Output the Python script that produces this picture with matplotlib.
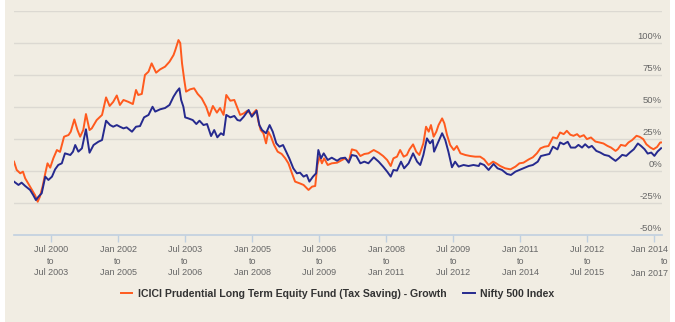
import matplotlib
matplotlib.use("Agg")
import matplotlib.pyplot as plt
from matplotlib import font_manager
from matplotlib.patches import Rectangle
from matplotlib.transforms import offset_copy, blended_transform_factory, ScaledTranslation

# rolling 3-year return, start of window as decimal year
fund_years = [
    1999.67, 1999.73, 1999.81, 1999.87, 1999.92, 2000.03, 2000.14, 2000.20, 2000.25, 2000.31,
    2000.37, 2000.42, 2000.48, 2000.55, 2000.63, 2000.70, 2000.79, 2000.89, 2000.94, 2001.02,
    2001.09, 2001.15, 2001.22, 2001.28, 2001.36, 2001.41, 2001.52, 2001.64, 2001.73, 2001.81,
    2001.89, 2001.97, 2002.04, 2002.12, 2002.23, 2002.33, 2002.40, 2002.45, 2002.53, 2002.60,
    2002.68, 2002.75, 2002.85, 2002.94, 2003.05, 2003.15, 2003.24, 2003.28, 2003.35, 2003.39,
    2003.43, 2003.48, 2003.52, 2003.61, 2003.70, 2003.78, 2003.87, 2003.97, 2004.04, 2004.12,
    2004.21, 2004.28, 2004.36, 2004.42, 2004.51, 2004.60, 2004.67, 2004.73, 2004.81, 2004.89,
    2004.99, 2005.09, 2005.14, 2005.19, 2005.25, 2005.31, 2005.36, 2005.42, 2005.49, 2005.57,
    2005.66, 2005.74, 2005.81, 2005.89, 2005.96, 2006.06, 2006.15, 2006.26, 2006.34, 2006.41,
    2006.46, 2006.51, 2006.56, 2006.61, 2006.69, 2006.78, 2006.90, 2006.98, 2007.08, 2007.16,
    2007.23, 2007.33, 2007.42, 2007.51, 2007.60, 2007.72, 2007.83, 2007.93, 2008.02, 2008.10,
    2008.16, 2008.24, 2008.31, 2008.39, 2008.46, 2008.52, 2008.60, 2008.67, 2008.74, 2008.83,
    2008.89, 2008.95, 2009.00, 2009.06, 2009.12, 2009.17, 2009.25, 2009.30, 2009.36, 2009.43,
    2009.51, 2009.58, 2009.66, 2009.77, 2009.88, 2009.99, 2010.10, 2010.19, 2010.29, 2010.39,
    2010.46, 2010.55, 2010.66, 2010.78, 2010.89, 2010.98, 2011.07, 2011.19, 2011.28, 2011.37,
    2011.45, 2011.54, 2011.63, 2011.73, 2011.82, 2011.89, 2011.97, 2012.04, 2012.12, 2012.19,
    2012.27, 2012.33, 2012.42, 2012.49, 2012.58, 2012.68, 2012.77, 2012.86, 2012.95, 2013.03,
    2013.13, 2013.18, 2013.25, 2013.35, 2013.42, 2013.50, 2013.60, 2013.67, 2013.75, 2013.82,
    2013.91, 2013.98, 2014.06, 2014.13, 2014.17,
]
fund_returns = [
    7.3, 0.8, -1.8, -0.5, -5.7, -12.2, -18.8, -24.0, -20.0, -12.0,
    -1.8, 6.0, 2.6, 9.9, 16.4, 14.9, 26.8, 28.1, 30.7, 40.3,
    32.0, 26.8, 32.0, 44.5, 32.0, 33.3, 39.8, 43.8, 57.5, 50.8,
    54.0, 59.0, 51.6, 55.5, 54.0, 52.3, 63.3, 59.4, 60.2, 75.0,
    77.6, 84.1, 76.8, 79.4, 81.5, 85.4, 90.6, 94.5, 102.3, 100.0,
    84.1, 71.1, 62.0, 63.8, 64.6, 60.2, 56.8, 50.2, 43.0, 50.8,
    45.6, 49.2, 43.8, 59.4, 54.9, 55.5, 49.2, 43.8, 45.0, 47.1,
    43.8, 47.7, 38.5, 32.0, 29.5, 21.6, 30.7, 26.8, 20.3, 15.1,
    13.3, 9.9, 6.0, -1.8, -8.3, -9.6, -10.9, -14.8, -12.2, -11.7,
    4.7, 11.2, 6.0, 9.9, 4.7, 6.0, 6.5, 8.0, 9.9, 7.3,
    16.9, 15.9, 11.7, 13.3, 13.8, 16.4, 14.3, 11.7, 8.6, 3.9,
    9.9, 11.2, 16.4, 11.2, 12.5, 16.9, 20.8, 15.1, 12.5, 21.6,
    34.6, 30.7, 35.9, 26.8, 30.7, 35.9, 41.1, 37.2, 28.1, 20.3,
    16.4, 19.5, 13.8, 12.5, 11.7, 11.2, 11.2, 9.1, 4.7, 7.3,
    6.0, 3.9, 2.1, 1.3, 3.4, 6.0, 6.5, 9.1, 10.7, 13.8,
    17.7, 19.0, 19.5, 26.3, 25.5, 30.1, 28.8, 31.4, 28.3, 27.5,
    28.8, 26.7, 28.0, 24.9, 26.2, 23.0, 22.3, 21.5, 19.6, 18.3,
    15.7, 17.0, 20.4, 19.6, 22.3, 24.1, 27.5, 26.7, 24.9, 20.9,
    18.3, 17.0, 18.8, 22.3, 22.3,
]

index_years = [
    1999.67, 1999.77, 1999.84, 1999.92, 2000.03, 2000.10, 2000.16, 2000.22, 2000.29, 2000.37,
    2000.44, 2000.52, 2000.59, 2000.66, 2000.74, 2000.81, 2000.93, 2000.99, 2001.04, 2001.11,
    2001.19, 2001.28, 2001.36, 2001.45, 2001.56, 2001.64, 2001.73, 2001.82, 2001.89, 2001.97,
    2002.04, 2002.12, 2002.19, 2002.31, 2002.40, 2002.49, 2002.58, 2002.68, 2002.77, 2002.83,
    2002.94, 2003.05, 2003.15, 2003.24, 2003.31, 2003.37, 2003.41, 2003.46, 2003.50, 2003.57,
    2003.67, 2003.75, 2003.82, 2003.91, 2003.99, 2004.08, 2004.15, 2004.22, 2004.30, 2004.36,
    2004.42, 2004.51, 2004.60, 2004.67, 2004.73, 2004.81, 2004.92, 2004.99, 2005.10, 2005.16,
    2005.22, 2005.31, 2005.39, 2005.46, 2005.54, 2005.61, 2005.69, 2005.76, 2005.83, 2005.92,
    2006.00, 2006.07, 2006.15, 2006.22, 2006.28, 2006.36, 2006.43, 2006.48, 2006.54, 2006.60,
    2006.69, 2006.78, 2006.90, 2006.98, 2007.08, 2007.16, 2007.23, 2007.33, 2007.42, 2007.51,
    2007.60, 2007.72, 2007.83, 2007.93, 2008.02, 2008.10, 2008.16, 2008.24, 2008.33, 2008.40,
    2008.50, 2008.60, 2008.69, 2008.76, 2008.83, 2008.91, 2008.98, 2009.04, 2009.07, 2009.15,
    2009.25, 2009.32, 2009.39, 2009.47, 2009.54, 2009.62, 2009.73, 2009.84, 2009.95, 2010.07,
    2010.10, 2010.19, 2010.29, 2010.40, 2010.49, 2010.59, 2010.70, 2010.79, 2010.89, 2010.98,
    2011.07, 2011.19, 2011.28, 2011.39, 2011.46, 2011.56, 2011.65, 2011.73, 2011.83, 2011.89,
    2011.97, 2012.06, 2012.13, 2012.23, 2012.30, 2012.38, 2012.45, 2012.53, 2012.60, 2012.70,
    2012.79, 2012.88, 2012.98, 2013.05, 2013.13, 2013.20, 2013.28, 2013.37, 2013.45, 2013.54,
    2013.63, 2013.70, 2013.78, 2013.85, 2013.93, 2014.00, 2014.07, 2014.15,
]
index_returns = [
    -8.3, -10.9, -9.1, -11.7, -14.8, -18.8, -22.7, -20.0, -17.4, -4.4,
    -7.0, -4.4, 1.3, 4.7, 6.0, 13.8, 12.5, 15.1, 20.3, 15.1,
    17.7, 32.6, 14.3, 20.3, 22.9, 24.2, 39.3, 35.9, 34.6, 35.9,
    34.6, 33.3, 34.1, 30.7, 34.6, 35.1, 41.9, 43.8, 50.2, 46.4,
    48.2, 49.2, 51.6, 58.1, 62.0, 64.6, 55.5, 50.2, 41.9, 41.1,
    39.8, 36.7, 39.3, 35.9, 36.7, 27.3, 32.0, 26.3, 29.5, 28.1,
    43.8, 41.9, 43.0, 39.8, 39.3, 42.4, 47.7, 42.4, 47.1, 35.9,
    32.0, 29.5, 35.9, 30.7, 21.6, 19.0, 20.3, 15.1, 9.9, 2.1,
    -1.8, -1.3, -4.4, -3.1, -8.3, -4.4, -1.8, 16.4, 9.9, 13.8,
    8.6, 10.4, 8.0, 9.9, 10.4, 6.5, 12.5, 11.7, 6.0, 7.3,
    6.0, 10.7, 7.3, 3.4, -0.5, -4.4, 0.8, 0.3, 7.3, 2.1,
    6.0, 13.8, 7.3, 4.7, 12.5, 25.5, 21.6, 24.2, 15.1, 21.6,
    29.5, 24.2, 15.1, 2.9, 7.3, 3.4, 4.7, 3.9, 4.7, 3.9,
    6.0, 4.7, 0.8, 5.5, 2.1, 0.8, -2.3, -3.1, -0.5, 0.8,
    2.1, 3.9, 4.7, 7.3, 11.7, 12.5, 13.3, 19.0, 16.9, 22.3,
    20.9, 22.8, 18.3, 18.3, 20.4, 18.3, 20.9, 18.3, 19.6, 15.7,
    14.4, 12.6, 11.8, 9.9, 7.9, 9.9, 12.6, 11.8, 14.4, 17.0,
    21.5, 19.6, 17.0, 13.6, 14.4, 11.8, 15.2, 17.8,
]

tick_years = [2000.5, 2002.0, 2003.5, 2005.0, 2006.5, 2008.0, 2009.5, 2011.0, 2012.5, 2014.0]
tick_labels = [
    "Jul 2000\nto\nJul 2003", "Jan 2002\nto\nJan 2005", "Jul 2003\nto\nJul 2006",
    "Jan 2005\nto\nJan 2008", "Jul 2006\nto\nJul 2009", "Jan 2008\nto\nJan 2011",
    "Jul 2009\nto\nJul 2012", "Jan 2011\nto\nJan 2014", "Jul 2012\nto\nJul 2015",
    "Jan 2014\nto\nJan 2017",
]
y_levels = [-50, -25, 0, 25, 50, 75, 100, 125]
fund_name = "ICICI Prudential Long Term Equity Fund (Tax Saving) - Growth"
index_name = "Nifty 500 Index"

BG = "#f1ede3"
ORANGE = "#ff5a1e"
NAVY = "#262a8e"
LABEL = "#666666"

names = {f.name for f in font_manager.fontManager.ttflist}
label_font = "Liberation Sans Narrow" if "Liberation Sans Narrow" in names else "Liberation Sans"
plt.rcParams["font.family"] = label_font

fig = plt.figure(figsize=(6.75, 3.22), dpi=100)
fig.patch.set_facecolor("white")
fig.patches.append(Rectangle((5 / 675, 0), 665 / 675, 1, transform=fig.transFigure,
                             facecolor=BG, edgecolor="none", zorder=-10))

ax = fig.add_axes([14 / 675, 1 - 235 / 322, 648 / 675, 224 / 322])
ax.patch.set_alpha(0)

ax.plot(fund_years, fund_returns, color=ORANGE, lw=1.4, label=fund_name, zorder=3)
ax.plot(index_years, index_returns, color=NAVY, lw=1.4, label=index_name, zorder=4)

ax.set_xlim(fund_years[0], fund_years[-1])
ax.set_ylim(-50, 125)

for v in y_levels[1:]:
    ax.axhline(v, color="#dcd9d2", lw=1, zorder=1)
tr = offset_copy(ax.transData, fig=fig, x=0, y=1.5, units="points")
for v in y_levels[:-1]:
    ax.text(fund_years[-1], v, f"{v}%", transform=tr,
            ha="right", va="bottom", fontsize=6.8, color=LABEL)

for s in ["left", "right", "top"]:
    ax.spines[s].set_visible(False)
ax.spines["bottom"].set_color("#c0d0e0")
ax.spines["bottom"].set_linewidth(1.2)
ax.set_yticks([])
ax.set_xticks(tick_years)
ax.set_xticklabels(tick_labels[:-1] + [""], fontsize=6.5, color=LABEL, linespacing=1.4)
ax.tick_params(axis="x", length=5, width=1, color="#c0d0e0", pad=2)

# last label is pushed right and right-aligned, as it overflows the plot edge
btr = blended_transform_factory(ax.transData, ax.transAxes)
ax.text(tick_years[-1], 0, tick_labels[-1], ha="right", va="top", multialignment="right",
        fontsize=6.5, color=LABEL, linespacing=1.4,
        transform=btr + ScaledTranslation(14 / 100, -10 / 100, fig.dpi_scale_trans))

leg = fig.legend(loc="center", bbox_to_anchor=(0.5, 1 - 294 / 322), ncol=2, frameon=False,
                 handlelength=1.1, handletextpad=0.5, columnspacing=1.6,
                 prop={"weight": "bold", "size": 7.6})
for t in leg.get_texts():
    t.set_color("#333333")

fig.savefig("out.png", dpi=100, facecolor=fig.get_facecolor())
